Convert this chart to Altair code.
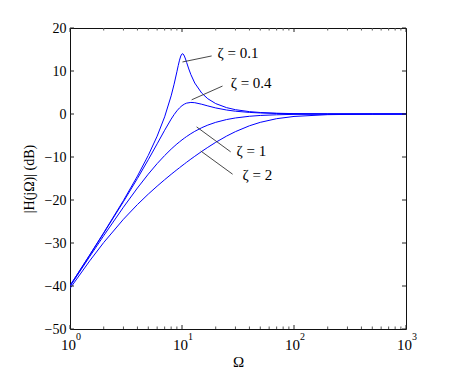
import altair as alt
import pandas as pd

# ---- data ----
omega = [1, 1.5, 2, 3, 4, 5, 6, 7, 8, 8.5, 9, 9.5, 10, 10.5, 11, 12, 13, 15, 17, 20,
         25, 30, 40, 50, 70, 100, 200, 500, 1000]
omega_01 = [1, 1.5, 2, 3, 4, 5, 6, 7, 8, 8.5, 9, 9.25, 9.5, 9.75, 10, 10.1, 10.25, 10.5,
            10.75, 11, 11.5, 12, 13, 15, 17, 20, 25, 30, 40, 50, 70, 100, 200, 500, 1000]
db_01 = [-39.91, -32.77, -27.61, -20.12, -14.44, -9.62, -5.15, -0.66, 4.22, 6.93,
         9.81, 11.24, 12.52, 13.49, 13.98, 14.02, 13.94, 13.48, 12.78, 11.99,
         10.47, 9.17, 7.20, 4.86, 3.55, 2.42, 1.48, 1.00, 0.55, 0.35,
         0.18, 0.085, 0.021, 0.003, 0.001]
db_04 = [-39.94, -32.83, -27.72, -20.39, -14.99, -10.63, -6.94, -3.78, -1.19, -0.14,
         0.73, 1.42, 1.94, 2.30, 2.53, 2.69, 2.63, 2.27, 1.88, 1.41,
         0.93, 0.65, 0.37, 0.24, 0.12, 0.059, 0.015, 0.002, 0.001]
db_1 = [-40.09, -33.15, -28.30, -21.67, -17.21, -13.98, -11.54, -9.66, -8.17, -7.55,
        -6.98, -6.48, -6.02, -5.61, -5.23, -4.58, -4.04, -3.19, -2.58, -1.94,
        -1.29, -0.92, -0.53, -0.34, -0.18, -0.086, -0.022, -0.003, -0.001]
db_2 = [-40.57, -34.15, -29.89, -24.48, -21.06, -18.63, -16.78, -15.28, -14.03, -13.48,
        -12.97, -12.49, -12.04, -11.62, -11.22, -10.49, -9.84, -8.70, -7.76, -6.59,
        -5.14, -4.10, -2.74, -1.94, -1.09, -0.57, -0.15, -0.024, -0.006]

labels = ["ζ = 0.1", "ζ = 0.4", "ζ = 1", "ζ = 2"]
ann_x1 = [10.1, 12.2, 13.5, 14.7]
ann_y1 = [12.1, 3.3, -3.0, -8.6]
ann_x2 = [18.4, 23.0, 27.2, 28.3]
ann_y2 = [13.5, 6.5, -8.8, -14.0]
txt_x = [20.8, 27.2, 30.7, 34.7]
txt_y = [14.2, 7.2, -8.6, -14.2]

x_major = [1, 10, 100, 1000]
x_tick_base = ["10", "10", "10", "10"]
x_tick_exp = ["0", "1", "2", "3"]
x_minor = [2, 3, 4, 5, 6, 7, 8, 9, 20, 30, 40, 50, 60, 70, 80, 90,
           200, 300, 400, 500, 600, 700, 800, 900]
y_ticks = [-50, -40, -30, -20, -10, 0, 10, 20]

# ---- tables ----
rows = []
for o, d in zip(omega_01, db_01):
    rows.append({"omega": o, "db": d, "z": "0.1"})
for name, arr in [("0.4", db_04), ("1", db_1), ("2", db_2)]:
    for o, d in zip(omega, arr):
        rows.append({"omega": o, "db": d, "z": name})
curves = pd.DataFrame(rows)
ann = pd.DataFrame({"label": labels, "x1": ann_x1, "y1": ann_y1, "x2": ann_x2,
                    "y2": ann_y2, "tx": txt_x, "ty": txt_y})
xmaj = pd.DataFrame({"v": x_major, "base": x_tick_base, "exp": x_tick_exp})
xmin = pd.DataFrame({"v": x_minor})
yt = pd.DataFrame({"v": y_ticks})

W, H = 336, 301
FONT = "Liberation Serif, DejaVu Serif, serif"

label_expr = "{" + ",".join(f"'{v}':'{b}'" for v, b in zip(x_major, x_tick_base)) + "}[datum.value]"

xscale = alt.Scale(type="log", domain=[1, 1000], nice=False)
yscale = alt.Scale(domain=[-50, 20], nice=False)

xaxis = alt.Axis(values=x_major, labelExpr=label_expr, ticks=False, domain=False, grid=False,
                 labelFlush=False, labelFont=FONT, labelFontSize=15, labelColor="#000",
                 labelPadding=8, labelOverlap=False, labelOffset=-2,
                 title="Ω", titleFont=FONT, titleFontSize=15, titleFontWeight="normal",
                 titleColor="#000", titlePadding=2)
yaxis = alt.Axis(values=y_ticks, ticks=False, domain=False, grid=False, labelFlush=False,
                 labelFont=FONT, labelFontSize=14, labelColor="#000", labelPadding=4,
                 title="|H(jΩ)| (dB)", titleFont=FONT, titleFontSize=14,
                 titleFontWeight="normal", titleColor="#000", titlePadding=8)

lines = alt.Chart(curves).mark_line(color="#0000ff", strokeWidth=1, clip=True).encode(
    x=alt.X("omega:Q", scale=xscale, axis=xaxis),
    y=alt.Y("db:Q", scale=yscale, axis=yaxis),
    detail="z:N",
    order="omega:Q",
)

ann_lines = alt.Chart(ann).mark_rule(color="#333333", strokeWidth=0.9).encode(
    x=alt.X("x1:Q", scale=xscale), x2="x2:Q",
    y=alt.Y("y1:Q", scale=yscale), y2="y2:Q",
)
ann_text = alt.Chart(ann).mark_text(align="left", baseline="middle", font=FONT,
                                    fontSize=15, color="#000").encode(
    x=alt.X("tx:Q", scale=xscale), y=alt.Y("ty:Q", scale=yscale), text="label:N"
)

sup_text = alt.Chart(xmaj).mark_text(align="left", baseline="middle", font=FONT,
                                     fontSize=10, color="#000", dx=6).encode(
    x=alt.X("v:Q", scale=xscale), y=alt.value(H + 8), text="exp:N"
)

tick_col = "#222222"
bot_major = alt.Chart(xmaj).mark_rule(color=tick_col, strokeWidth=1).encode(
    x=alt.X("v:Q", scale=xscale), y=alt.value(H), y2=alt.value(H - 4))
top_major = alt.Chart(xmaj).mark_rule(color=tick_col, strokeWidth=1).encode(
    x=alt.X("v:Q", scale=xscale), y=alt.value(0), y2=alt.value(4))
bot_minor = alt.Chart(xmin).mark_rule(color="#555555", strokeWidth=1).encode(
    x=alt.X("v:Q", scale=xscale), y=alt.value(H), y2=alt.value(H - 2.5))
top_minor = alt.Chart(xmin).mark_rule(color="#555555", strokeWidth=1).encode(
    x=alt.X("v:Q", scale=xscale), y=alt.value(0), y2=alt.value(2.5))
left_t = alt.Chart(yt).mark_rule(color=tick_col, strokeWidth=1).encode(
    y=alt.Y("v:Q", scale=yscale), x=alt.value(0), x2=alt.value(4))
right_t = alt.Chart(yt).mark_rule(color=tick_col, strokeWidth=1).encode(
    y=alt.Y("v:Q", scale=yscale), x=alt.value(W), x2=alt.value(W - 4))

chart = alt.layer(lines, ann_lines, ann_text, sup_text, bot_major, top_major, bot_minor,
                  top_minor, left_t, right_t).properties(
    width=W, height=H,
    autosize=alt.AutoSizeParams(type="none"),
    padding={"left": 70, "top": 28, "right": 44, "bottom": 41},
    background="white",
).configure_view(stroke="#111111", strokeWidth=1)

chart.save("out.html", embed_options={"renderer": "svg", "actions": False})
